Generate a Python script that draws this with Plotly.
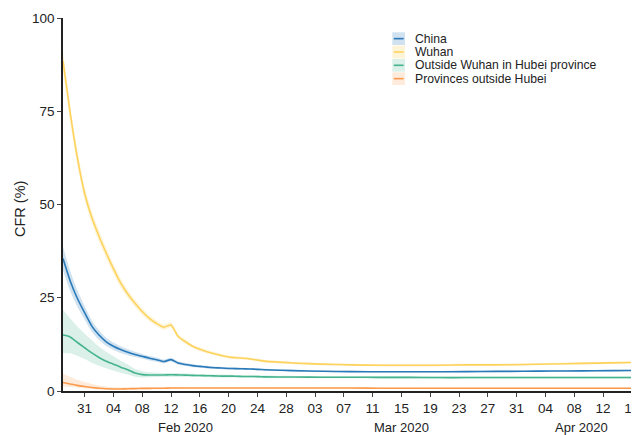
import plotly.graph_objects as go

# ---------------- data ----------------
DATES = [
    "2020-01-28", "2020-01-29", "2020-01-30", "2020-01-31", "2020-02-01", "2020-02-02",
    "2020-02-03", "2020-02-04", "2020-02-05", "2020-02-06", "2020-02-07", "2020-02-08",
    "2020-02-09", "2020-02-10", "2020-02-11", "2020-02-12", "2020-02-13", "2020-02-14",
    "2020-02-15", "2020-02-16", "2020-02-17", "2020-02-18", "2020-02-19", "2020-02-20",
    "2020-02-21", "2020-02-22", "2020-02-23", "2020-02-24", "2020-02-25",
    "2020-02-29", "2020-03-04", "2020-03-08", "2020-03-12", "2020-03-16", "2020-03-20",
    "2020-03-24", "2020-03-28", "2020-04-01", "2020-04-05", "2020-04-09", "2020-04-13",
    "2020-04-17",
]

SERIES_NAMES = ["China", "Wuhan", "Outside Wuhan in Hubei province", "Provinces outside Hubei"]

china_mean = [35.5, 29.5, 24.8, 21.0, 17.4, 15.0, 13.2, 12.0, 11.1, 10.4, 9.8, 9.3, 8.8, 8.4,
              7.9, 8.4, 7.5, 7.1, 6.8, 6.6, 6.4, 6.25, 6.15, 6.05, 6.0, 5.95, 5.9, 5.8, 5.7,
              5.45, 5.3, 5.2, 5.15, 5.15, 5.15, 5.2, 5.25, 5.3, 5.35, 5.4, 5.45, 5.5]
china_hi = [38.7, 32.2, 27.0, 22.8, 18.9, 16.3, 14.3, 13.0, 12.0, 11.2, 10.5, 9.95, 9.4, 8.95,
            8.4, 8.9, 7.95, 7.5, 7.2, 6.95, 6.75, 6.55, 6.45, 6.35, 6.3, 6.25, 6.15, 6.05, 5.95,
            5.65, 5.5, 5.4, 5.35, 5.35, 5.35, 5.4, 5.45, 5.5, 5.55, 5.6, 5.65, 5.7]
china_lo = [32.3, 26.8, 22.6, 19.2, 15.9, 13.7, 12.1, 11.0, 10.2, 9.6, 9.1, 8.65, 8.2, 7.85,
            7.4, 7.9, 7.05, 6.7, 6.4, 6.25, 6.05, 5.95, 5.85, 5.75, 5.7, 5.65, 5.65, 5.55, 5.45,
            5.25, 5.1, 5.0, 4.95, 4.95, 4.95, 5.0, 5.05, 5.1, 5.15, 5.2, 5.25, 5.3]

wuhan_mean = [88.5, 74.5, 62.5, 53.0, 46.5, 41.5, 37.0, 32.8, 29.0, 26.0, 23.5, 21.3, 19.5, 18.1,
              17.1, 17.7, 14.6, 13.2, 12.0, 11.2, 10.5, 10.0, 9.5, 9.1, 8.9, 8.8, 8.6, 8.3, 8.0,
              7.5, 7.2, 7.0, 6.9, 6.9, 6.9, 7.0, 7.0, 7.1, 7.25, 7.4, 7.55, 7.7]
wuhan_hi = [91.0, 76.7, 64.5, 54.8, 48.1, 43.0, 38.4, 34.1, 30.2, 27.1, 24.5, 22.2, 20.3, 18.9,
            17.8, 18.4, 15.2, 13.8, 12.5, 11.7, 11.0, 10.5, 9.9, 9.5, 9.3, 9.2, 9.0, 8.7, 8.4,
            7.8, 7.5, 7.3, 7.2, 7.2, 7.2, 7.3, 7.3, 7.4, 7.55, 7.7, 7.85, 8.0]
wuhan_lo = [86.0, 72.3, 60.5, 51.2, 44.9, 40.0, 35.6, 31.5, 27.8, 24.9, 22.5, 20.4, 18.7, 17.4,
            16.4, 17.0, 14.0, 12.7, 11.5, 10.7, 10.1, 9.6, 9.1, 8.7, 8.5, 8.45, 8.25, 7.95, 7.65,
            7.2, 6.9, 6.7, 6.6, 6.6, 6.6, 6.7, 6.7, 6.8, 6.95, 7.1, 7.25, 7.4]

hubei_mean = [15.0, 14.5, 13.0, 11.6, 10.2, 9.0, 8.0, 7.2, 6.4, 5.7, 4.8, 4.4, 4.3, 4.3,
              4.3, 4.35, 4.3, 4.25, 4.2, 4.15, 4.1, 4.05, 4.0, 4.0, 3.95, 3.9, 3.9, 3.85, 3.8,
              3.75, 3.7, 3.7, 3.65, 3.65, 3.6, 3.6, 3.6, 3.6, 3.6, 3.6, 3.6, 3.6]
hubei_hi = [21.8, 19.5, 17.3, 15.4, 13.6, 11.9, 10.5, 9.3, 8.1, 7.1, 5.9, 5.3, 5.0, 4.9,
            4.85, 4.85, 4.8, 4.7, 4.65, 4.55, 4.5, 4.45, 4.4, 4.35, 4.3, 4.25, 4.25, 4.2, 4.15,
            4.05, 4.0, 4.0, 3.95, 3.95, 3.9, 3.9, 3.9, 3.9, 3.9, 3.9, 3.9, 3.9]
hubei_lo = [10.2, 10.1, 9.4, 8.6, 7.6, 6.8, 6.1, 5.5, 4.9, 4.4, 3.8, 3.6, 3.7, 3.75,
            3.8, 3.85, 3.8, 3.8, 3.75, 3.75, 3.7, 3.65, 3.6, 3.65, 3.6, 3.55, 3.55, 3.5, 3.45,
            3.45, 3.4, 3.4, 3.35, 3.35, 3.3, 3.3, 3.3, 3.3, 3.3, 3.3, 3.3, 3.3]

prov_mean = [2.3, 1.9, 1.5, 1.2, 0.95, 0.75, 0.6, 0.55, 0.55, 0.6, 0.65, 0.7, 0.7, 0.75,
             0.75, 0.8, 0.8, 0.8, 0.8, 0.8, 0.8, 0.8, 0.8, 0.8, 0.8, 0.8, 0.8, 0.8, 0.8,
             0.8, 0.8, 0.8, 0.75, 0.75, 0.75, 0.75, 0.75, 0.75, 0.75, 0.75, 0.75, 0.75]
prov_hi = [4.6, 3.8, 3.0, 2.4, 1.9, 1.5, 1.2, 1.0, 0.95, 0.95, 0.95, 1.0, 1.0, 1.0,
           1.0, 1.05, 1.05, 1.0, 1.0, 1.0, 1.0, 1.0, 1.0, 1.0, 1.0, 1.0, 1.0, 1.0, 1.0,
           1.0, 1.0, 1.0, 0.95, 0.95, 0.95, 0.95, 0.95, 0.95, 0.95, 0.95, 0.95, 0.95]
prov_lo = [1.3, 1.1, 0.9, 0.7, 0.55, 0.4, 0.3, 0.3, 0.3, 0.35, 0.4, 0.45, 0.45, 0.5,
           0.5, 0.55, 0.55, 0.6, 0.6, 0.6, 0.6, 0.6, 0.6, 0.6, 0.6, 0.6, 0.6, 0.6, 0.6,
           0.6, 0.6, 0.6, 0.55, 0.55, 0.55, 0.55, 0.55, 0.55, 0.55, 0.55, 0.55, 0.55]

Y_TICKS = [0, 25, 50, 75, 100]
MONTH_LABELS = ["Feb 2020", "Mar 2020", "Apr 2020"]
MONTH_LABEL_DATES = ["2020-02-14", "2020-03-15", "2020-04-09"]

# ---------------- style ----------------
LINE_COLORS = ["#2a7ab9", "#fdd35e", "#45b48d", "#fb9a4c"]
BAND_COLORS = ["rgba(42,122,185,0.22)", "rgba(253,211,94,0.25)",
               "rgba(69,180,141,0.2)", "rgba(251,154,76,0.2)"]
FONT = "Liberation Sans, Arial, sans-serif"

# The page body has an 8px margin, so the figure is drawn 8px right/down in the window.
# Size the figure so it fits exactly in the 639x435 window without overflow.
OFF = 8
WIN_W, WIN_H = 639, 435
W, H = WIN_W - OFF, WIN_H - OFF
# target plot area in window pixels: x 63..639, y 18..391
ML = 63 - OFF
MT = 18 - OFF
MR = W - (639 - OFF)
MB = H - (391 - OFF)
PW, PH = W - ML - MR, H - MT - MB


def px_x(px):
    return (px - OFF - ML) / PW


def px_y(py):
    return (H - MB - (py - OFF)) / PH


series = [
    (china_mean, china_lo, china_hi),
    (wuhan_mean, wuhan_lo, wuhan_hi),
    (hubei_mean, hubei_lo, hubei_hi),
    (prov_mean, prov_lo, prov_hi),
]

SMOOTH = dict(shape="spline", smoothing=0.6)

fig = go.Figure()
draw_order = [1, 2, 3, 0]
for i in draw_order:
    mean, lo, hi = series[i]
    fig.add_trace(go.Scatter(x=DATES, y=lo, mode="lines", line=dict(width=0, **SMOOTH),
                             showlegend=False, hoverinfo="skip"))
    fig.add_trace(go.Scatter(x=DATES, y=hi, mode="lines", line=dict(width=0, **SMOOTH),
                             fill="tonexty", fillcolor=BAND_COLORS[i],
                             showlegend=False, hoverinfo="skip"))
for i in draw_order:
    mean, lo, hi = series[i]
    fig.add_trace(go.Scatter(x=DATES, y=mean, mode="lines", name=SERIES_NAMES[i],
                             line=dict(color=LINE_COLORS[i], width=1.6, **SMOOTH),
                             showlegend=False))

# manual legend (compact, like the reference)
shapes = []
annotations = []
row_h = 13.33
top0 = 32.3
for k, name in enumerate(SERIES_NAMES):
    t = top0 + k * row_h
    b = t + 12.7
    c = (t + b) / 2
    shapes.append(dict(type="rect", xref="paper", yref="paper",
                       x0=px_x(392.3), x1=px_x(405), y0=px_y(b), y1=px_y(t),
                       fillcolor=BAND_COLORS[k], line=dict(width=0), layer="above"))
    shapes.append(dict(type="line", xref="paper", yref="paper",
                       x0=px_x(393.8), x1=px_x(403.6), y0=px_y(c), y1=px_y(c),
                       line=dict(color=LINE_COLORS[k], width=1.6), layer="above"))
    annotations.append(dict(text=name, xref="paper", yref="paper", x=px_x(413.3), y=px_y(c),
                            xanchor="left", yanchor="middle", showarrow=False,
                            font=dict(size=12.2, color="#222", family=FONT)))

for lab, d in zip(MONTH_LABELS, MONTH_LABEL_DATES):
    annotations.append(dict(text=lab, xref="x", yref="paper", x=d, y=px_y(427),
                            xanchor="center", yanchor="middle", showarrow=False,
                            font=dict(size=13, color="#222", family=FONT)))

annotations.append(dict(text="CFR (%)", xref="paper", yref="paper", x=px_x(20),
                        y=px_y(209), xanchor="center", yanchor="middle", textangle=-90,
                        showarrow=False, font=dict(size=14.5, color="#222", family=FONT)))

fig.update_layout(
    width=W, height=H,
    margin=dict(l=ML, r=MR, t=MT, b=MB, pad=0, autoexpand=False),
    paper_bgcolor="white", plot_bgcolor="white",
    font=dict(family=FONT, color="#222", size=13),
    shapes=shapes, annotations=annotations,
    showlegend=False,
)
fig.update_xaxes(
    type="date", range=["2020-01-28", "2020-04-17"],
    tick0="2020-01-31", dtick=4 * 86400000, tickformat="%d",
    ticks="outside", ticklen=4, tickwidth=1, tickcolor="#444",
    showline=True, linecolor="#222", linewidth=1.5, automargin=False,
    showgrid=False, zeroline=False, tickfont=dict(size=13.5),
    ticklabeloverflow="allow",
)
fig.update_yaxes(
    range=[0, 100], tickvals=Y_TICKS,
    ticks="outside", ticklen=4, tickwidth=1, tickcolor="#444",
    showline=True, linecolor="#222", linewidth=1.5, automargin=False,
    showgrid=False, zeroline=False, tickfont=dict(size=13.5),
)

fig.write_html("out.html")
